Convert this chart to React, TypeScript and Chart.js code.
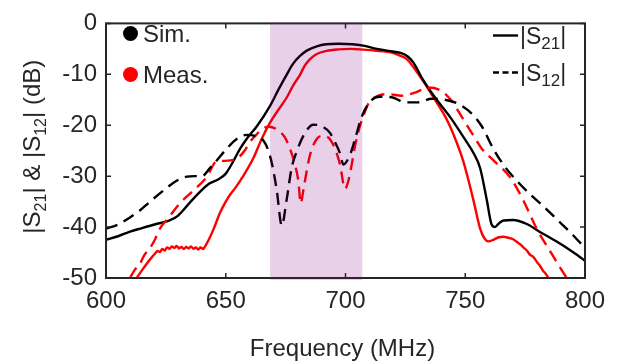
import React, { useEffect, useRef } from 'react';
import { Chart, registerables } from 'chart.js';

Chart.register(...registerables);

// ---------- data ----------
const xTickStep = 50;
const yTickStep = 10;
const xRange = [600, 800];
const yRange = [-50, 0];
const passband = [668.5, 707];

const simS21Freq = [600, 605, 610, 615, 621, 626, 630, 635, 639, 643, 647, 650, 653, 656, 659, 663, 668.5, 672, 675.4, 678, 681, 684, 688, 692, 697, 703, 708, 712, 718, 723, 726, 728.5, 732, 737, 744, 749.5, 753.5, 756.2, 759, 761, 762.4, 764, 766, 770, 775.7, 781, 788, 794, 800];
const simS21dB = [-42.5, -41.8, -40.9, -40.2, -39.4, -38.8, -37.8, -35.2, -33.2, -31.5, -30.6, -29.5, -27.2, -24.6, -22.5, -20.2, -16.2, -13, -10.1, -8, -6.4, -5.3, -4.5, -4.1, -4.0, -4.1, -4.4, -4.9, -5.4, -5.8, -6.5, -7.8, -10.8, -14.3, -18.6, -22.5, -25.5, -28.4, -34.7, -39.5, -40.0, -39.3, -38.7, -38.6, -39.4, -40.9, -42.8, -44.6, -46.6];

const measS21Freq = [612.8, 615, 617, 619, 620.5, 621.5, 622.5, 623.5, 624.5, 625.5, 626.5, 627.5, 628.5, 629.5, 630.5, 631.5, 632.5, 633.5, 634.5, 635.5, 636.5, 637.5, 638.5, 639.5, 640.5, 641.5, 643, 645, 647.6, 650, 652, 654, 657, 661.5, 665, 668.5, 671.5, 675.4, 678, 681, 683, 685.2, 688, 692, 697, 702, 706, 711.6, 716, 719, 722, 725.6, 729, 732.5, 736, 739.5, 742, 745, 749.2, 753.4, 756.2, 758, 759.6, 761.7, 764, 765.9, 768, 770, 771.5, 773, 774.5, 775.7, 777, 778.5, 780, 781.2, 782.5, 783.5, 784.7];
const measS21dB = [-50, -48.5, -47.2, -46.0, -45.2, -44.7, -44.9, -44.3, -44.6, -44.0, -44.3, -43.8, -44.1, -43.7, -44.2, -43.9, -44.3, -43.9, -44.2, -43.8, -44.3, -44.0, -44.4, -44.0, -44.3, -43.7, -42.4, -40.3, -37.2, -35.0, -33.5, -32.3, -30.2, -26.5, -22.7, -19.5, -17.3, -14.6, -12.3, -10.1, -8.3, -7.0, -6.0, -5.4, -5.1, -5.0, -5.1, -5.3, -5.5, -5.7, -6.2, -7.0, -9.0, -11.4, -14.0, -16.6, -18.6, -21.7, -27.1, -34.7, -40.3, -42.2, -42.8, -42.5, -42.0, -41.9, -42.1, -42.4, -42.9, -43.4, -44.1, -44.6, -45.4, -45.9, -46.9, -47.6, -48.6, -49.1, -50];

const simS12Freq = [600, 605, 610, 614, 618.4, 624, 629.5, 633.7, 637, 640, 643.4, 647, 650.4, 654.6, 658.7, 662.2, 665.7, 667.8, 669.5, 671.3, 673.4, 675.4, 677.5, 679.6, 683.1, 686.6, 690.1, 693.5, 695.6, 697.7, 699.1, 701.9, 704, 706.8, 710, 714, 719.3, 724.8, 730.4, 736, 741.5, 747.1, 752.7, 756.9, 761.7, 766, 771.5, 777, 782.6, 789.6, 795, 800];
const simS12dB = [-40.3, -39.5, -38.1, -36.8, -35.0, -32.8, -30.9, -30.1, -30.0, -30.0, -28.4, -26.5, -24.6, -22.7, -21.9, -22.1, -23.0, -25.0, -28.0, -32.8, -39.7, -34.7, -28.4, -25.2, -21.5, -19.9, -20.2, -21.5, -23.3, -25.5, -27.7, -25.8, -22.7, -18.3, -15.5, -14.4, -14.5, -15.5, -15.5, -14.8, -15.0, -15.8, -17.7, -20.2, -24.6, -27.8, -30.9, -33.5, -35.9, -39.1, -41.6, -44.1];

const measS12Freq = [610, 612, 614.2, 616, 618.4, 620.5, 622.5, 626.7, 630.9, 636.5, 642, 646.2, 649.7, 652, 654.6, 658, 660.1, 662.9, 665, 667.8, 671.3, 674.7, 676.8, 678.9, 680.3, 681.3, 682.4, 683.8, 685.2, 688, 690.7, 692.8, 695.6, 697.7, 699.8, 701.2, 702.6, 704, 706, 707.4, 709.5, 713.7, 717.9, 723.5, 729, 734.6, 740.2, 744.3, 748.5, 752.7, 756.9, 762, 768.7, 774.2, 779.8, 785.4, 789, 792.4];
const measS12dB = [-50, -48.4, -47.2, -45.5, -44.1, -42.4, -40.3, -37.8, -35.3, -32.8, -30.2, -27.1, -27.0, -26.9, -26.6, -24.9, -23.3, -21.8, -20.8, -20.3, -20.8, -22.4, -24.6, -27.7, -30.9, -35.3, -32.8, -29.0, -25.8, -22.7, -22.1, -22.4, -24.6, -27.7, -32.5, -30.9, -27.7, -24.0, -20.2, -18.3, -15.8, -14.2, -13.9, -14.2, -13.6, -12.6, -13.3, -15.2, -18.3, -21.5, -24.6, -27.0, -30.2, -34.7, -40.3, -44.7, -47.5, -50];

const seriesLabels = ['Sim.', 'Meas.'];
const xTitle = 'Frequency (MHz)';

// ---------- styling ----------
const FONT = '"Liberation Sans", Arial, Helvetica, sans-serif';
const TEXT = '#262626';
const LW = 2.4;
const DASH = [12, 7];

type Part = [string, boolean];

function drawRich(ctx: CanvasRenderingContext2D, parts: Part[], x: number, y: number, size: number, subSize: number, align: 'left' | 'center') {
  const shift = size * 0.24;
  let total = 0;
  const widths = parts.map(([t, sub]) => {
    ctx.font = `${sub ? subSize : size}px ${FONT}`;
    const w = ctx.measureText(t).width;
    total += w;
    return w;
  });
  let cx = align === 'center' ? x - total / 2 : x;
  ctx.textAlign = 'left';
  ctx.textBaseline = 'alphabetic';
  parts.forEach(([t, sub], i) => {
    ctx.font = `${sub ? subSize : size}px ${FONT}`;
    ctx.fillText(t, cx, sub ? y + shift : y);
    cx += widths[i];
  });
}

const decorPlugin = {
  id: 'decor',
  afterDraw(chart: any) {
    const ctx: CanvasRenderingContext2D = chart.ctx;
    const xs = chart.scales.x;
    const ys = chart.scales.y;
    const { left, right, top, bottom } = chart.chartArea;
    ctx.save();
    // box
    ctx.strokeStyle = TEXT;
    ctx.lineWidth = 2;
    ctx.setLineDash([]);
    ctx.strokeRect(left, top, right - left, bottom - top);
    // inward ticks
    ctx.lineWidth = 1.5;
    ctx.beginPath();
    for (let v = xRange[0]; v <= xRange[1]; v += xTickStep) {
      const px = xs.getPixelForValue(v);
      ctx.moveTo(px, bottom); ctx.lineTo(px, bottom - 5);
      ctx.moveTo(px, top); ctx.lineTo(px, top + 5);
    }
    for (let v = yRange[0]; v <= yRange[1]; v += yTickStep) {
      const py = ys.getPixelForValue(v);
      ctx.moveTo(left, py); ctx.lineTo(left + 5, py);
      ctx.moveTo(right, py); ctx.lineTo(right - 5, py);
    }
    ctx.stroke();
    // passband shading (drawn on top, translucent)
    const x0 = xs.getPixelForValue(passband[0]);
    const x1 = xs.getPixelForValue(passband[1]);
    ctx.fillStyle = 'rgba(128,0,128,0.18)';
    ctx.fillRect(x0, top - 1, x1 - x0, bottom - top + 3);

    ctx.fillStyle = TEXT;
    // y title
    ctx.save();
    ctx.translate(40, (top + bottom) / 2 - 4);
    ctx.rotate(-Math.PI / 2);
    drawRich(ctx, [['|S', false], ['21', true], ['| & |S', false], ['12', true], ['| (dB)', false]], 0, 0, 24, 16, 'center');
    ctx.restore();
    // x title
    ctx.font = `24px ${FONT}`;
    ctx.textAlign = 'center';
    ctx.textBaseline = 'alphabetic';
    ctx.fillText(xTitle, (left + right) / 2 - 3, 356);

    // left legend (dots)
    const dotColors = ['#000000', '#ff0000'];
    const rows = [33.5, 74.5];
    rows.forEach((cy, i) => {
      ctx.fillStyle = dotColors[i];
      ctx.beginPath();
      ctx.arc(130.5, cy, 7.5, 0, Math.PI * 2);
      ctx.fill();
      ctx.fillStyle = TEXT;
      ctx.font = `24px ${FONT}`;
      ctx.textAlign = 'left';
      ctx.fillText(seriesLabels[i], 143, cy + 8.5);
    });

    // right legend (line styles)
    ctx.strokeStyle = '#000';
    ctx.lineWidth = LW;
    ctx.setLineDash([]);
    ctx.beginPath(); ctx.moveTo(493, 35.5); ctx.lineTo(518, 35.5); ctx.stroke();
    ctx.setLineDash([6, 3.5]);
    ctx.beginPath(); ctx.moveTo(493, 72.5); ctx.lineTo(518, 72.5); ctx.stroke();
    ctx.setLineDash([]);
    ctx.fillStyle = TEXT;
    drawRich(ctx, [['|S', false], ['21', true], ['|', false]], 520, 43.5, 23, 17, 'left');
    drawRich(ctx, [['|S', false], ['12', true], ['|', false]], 520, 80.5, 23, 17, 'left');
    ctx.restore();
  },
};

function pts(xs: number[], ys: number[]) {
  return xs.map((x, i) => ({ x, y: ys[i] }));
}

export default function App() {
  const ref = useRef<HTMLCanvasElement>(null);
  useEffect(() => {
    document.body.style.margin = '0';
    const canvas = ref.current!;
    const chart = new Chart(canvas, {
      type: 'line',
      data: {
        datasets: [
          { label: 'Sim |S12|', data: pts(simS12Freq, simS12dB), borderColor: '#000', borderDash: DASH, borderWidth: LW },
          { label: 'Meas |S12|', data: pts(measS12Freq, measS12dB), borderColor: '#ff0000', borderDash: DASH, borderWidth: LW },
          { label: 'Sim |S21|', data: pts(simS21Freq, simS21dB), borderColor: '#000', borderWidth: LW },
          { label: 'Meas |S21|', data: pts(measS21Freq, measS21dB), borderColor: '#ff0000', borderWidth: LW },
        ],
      },
      options: {
        responsive: false,
        animation: false,
        devicePixelRatio: 1,
        layout: { padding: { left: 0, right: 33, top: 13, bottom: 0 } },
        elements: {
          point: { radius: 0 },
          line: { cubicInterpolationMode: 'monotone', fill: false },
        },
        plugins: { legend: { display: false }, tooltip: { enabled: false } },
        scales: {
          x: {
            type: 'linear',
            min: xRange[0],
            max: xRange[1],
            ticks: { stepSize: xTickStep, color: TEXT, font: { family: FONT, size: 24 }, padding: 9, maxRotation: 0, autoSkip: false },
            grid: { display: false, drawTicks: false },
            border: { display: false },
            afterFit: (s: any) => { s.height = 86; },
          },
          y: {
            type: 'linear',
            min: yRange[0],
            max: yRange[1],
            ticks: { stepSize: yTickStep, color: TEXT, font: { family: FONT, size: 24 }, padding: 9, callback: (v: any) => String(v) },
            grid: { display: false, drawTicks: false },
            border: { display: false },
            afterFit: (s: any) => { s.width = 106; },
          },
        },
      },
      plugins: [decorPlugin],
    } as any);
    return () => chart.destroy();
  }, []);
  return (
    <div style={{ width: 618, height: 364 }}>
      <canvas ref={ref} width={618} height={364} style={{ display: 'block' }} />
    </div>
  );
}
